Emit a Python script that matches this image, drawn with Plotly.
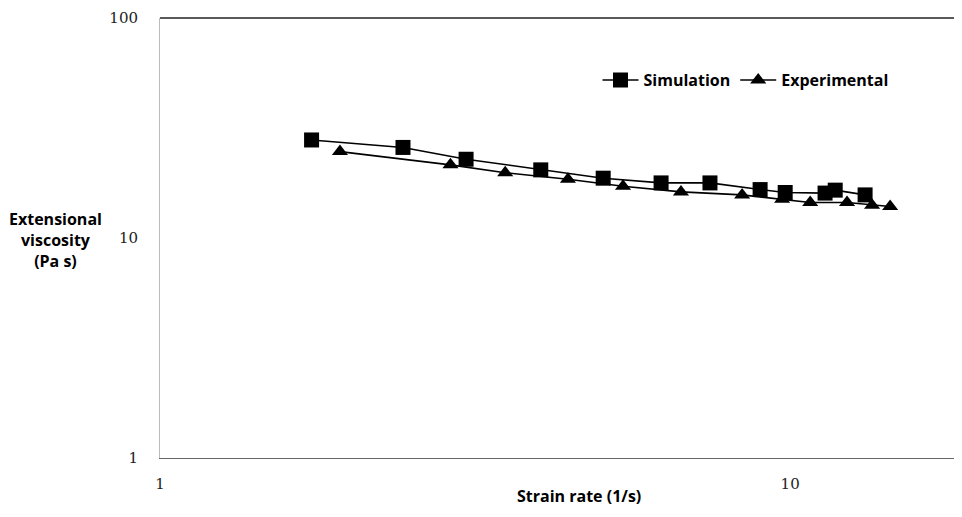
import plotly.graph_objs as go

# (log-log axes)
sim_rate = [1.74, 2.43, 3.06, 4.02, 5.05, 6.24, 7.46, 8.96, 9.82, 11.36, 11.79, 13.15]
sim_visc = [27.9, 25.8, 22.8, 20.4, 18.7, 17.8, 17.8, 16.6, 16.1, 16.0, 16.5, 15.7]

exp_rate = [1.93, 2.89, 3.53, 4.44, 5.43, 6.71, 8.39, 9.71, 10.76, 12.31, 13.49, 14.41]
exp_visc = [24.7, 21.5, 19.8, 18.5, 17.2, 16.2, 15.7, 15.0, 14.5, 14.5, 14.1, 13.9]

x_ticks = [1, 10]
y_ticks = [1, 10, 100]

data = [
    go.Scatter(x=sim_rate, y=sim_visc, name='Simulation', mode='lines+markers',
               line=dict(color='black', width=1.6),
               marker=dict(symbol='square', size=15, color='black')),
    go.Scatter(x=exp_rate, y=exp_visc, name='Experimental', mode='lines+markers',
               line=dict(color='black', width=1.6),
               marker=dict(symbol='triangle-up', size=14, color='black')),
]

tick_font = dict(family='DejaVu Serif', size=15, color='#222')
label_font = dict(family='Open Sans', size=16, color='black')

# page body has an 8px margin, so keep the figure inside the window
layout = go.Layout(
    width=946, height=501,
    margin=dict(l=152, r=0, t=10, b=51),
    paper_bgcolor='white', plot_bgcolor='white',
    xaxis=dict(type='log', range=[0, 1.26], tickvals=x_ticks, ticktext=['1', '10'],
               showgrid=False, zeroline=False, showline=True, linecolor='#666',
               linewidth=1, ticks='', tickfont=tick_font, ticklabelstandoff=12,
               automargin=False),
    yaxis=dict(type='log', range=[0, 2], tickvals=y_ticks, ticktext=['1', '10', '100'],
               showgrid=False, zeroline=False, showline=True, linecolor='#bbb',
               linewidth=1, ticks='', tickfont=tick_font, ticklabelstandoff=18,
               automargin=False),
    showlegend=True,
    legend=dict(orientation='h', x=0.551, y=0.859, xanchor='left', yanchor='middle',
                itemwidth=36,
                font=dict(family='Open Sans', size=16, color='black', weight='bold'),
                bgcolor='rgba(0,0,0,0)'),
    shapes=[dict(type='line', xref='paper', yref='paper', x0=0, x1=1, y0=1, y1=1,
                 line=dict(color='#222', width=1.3))],
    annotations=[
        dict(text='<b>Extensional<br>viscosity<br>(Pa s)</b>', xref='paper', yref='paper',
             x=-0.131, y=0.495, xanchor='center', yanchor='middle', showarrow=False,
             align='center', font=label_font),
        dict(text='<b>Strain rate (1/s)</b>', xref='paper', yref='paper',
             x=0.528, y=-0.116, xanchor='center', yanchor='bottom', showarrow=False,
             font=label_font),
    ],
)

fig = go.Figure(data=data, layout=layout)
fig.write_html('out.html')
